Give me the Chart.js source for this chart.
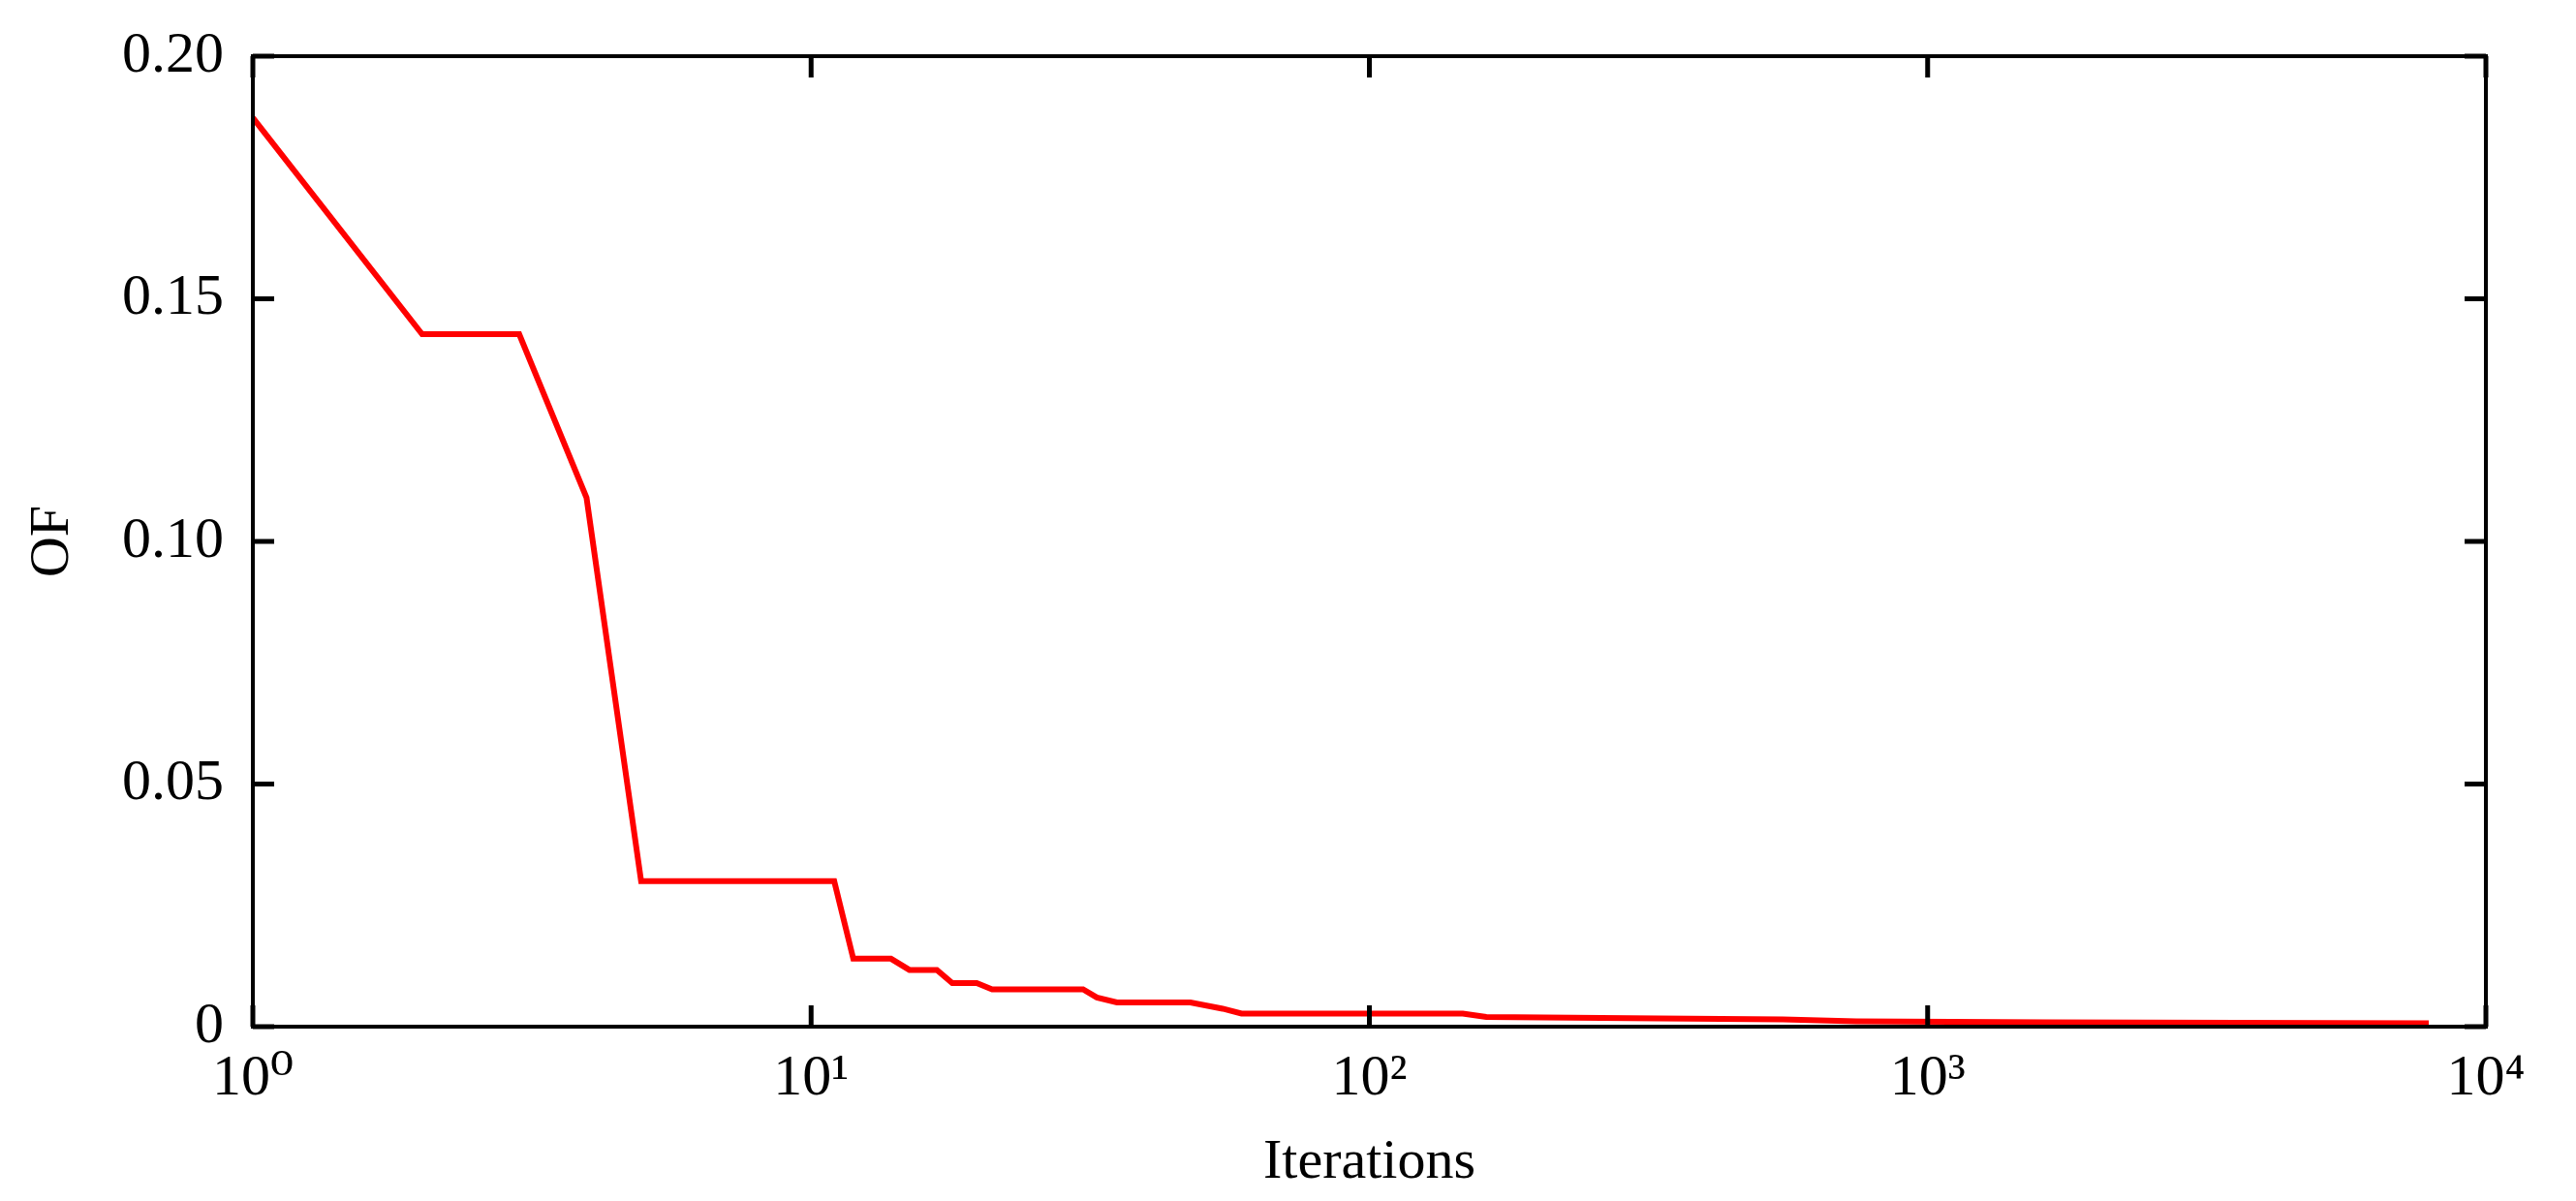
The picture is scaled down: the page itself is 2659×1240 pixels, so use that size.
<!DOCTYPE html>
<html><head><meta charset="utf-8">
<script src="https://cdn.jsdelivr.net/npm/chart.js@4"></script>
<style>html,body{margin:0;padding:0;background:#fff}#w{width:2659px;height:1240px}</style>
</head><body><div id="w"><canvas id="c"></canvas></div>
<script>
const iterations = [1, 2.01, 3.0, 3.96, 4.96, 11.0, 11.9, 13.9, 15.0, 16.8, 17.9, 19.8, 21.1, 30.7, 32.5, 35.3, 47.8, 54.6, 59, 147, 162, 330, 550, 745, 1630, 7900];
const ofValues = [0.1873, 0.1427, 0.1427, 0.109, 0.030, 0.030, 0.014, 0.014, 0.0117, 0.0117, 0.009, 0.009, 0.0077, 0.0077, 0.006, 0.005, 0.005, 0.0037, 0.0027, 0.0027, 0.002, 0.0017, 0.0015, 0.0011, 0.0009, 0.0007];
const xTickValues = [1, 10, 100, 1000, 10000];
const xTickLabels = ['10⁰', '10¹', '10²', '10³', '10⁴'];
const yTickValues = [0, 0.05, 0.10, 0.15, 0.20];
const yTickLabels = ['0', '0.05', '0.10', '0.15', '0.20'];

const FONT = "'Liberation Serif', 'DejaVu Serif', serif";
const innerTicks = {
  id: 'innerTicks',
  afterDraw(chart) {
    const {ctx, chartArea: a, scales: {x, y}} = chart;
    ctx.save();
    ctx.strokeStyle = '#000'; ctx.lineWidth = 5;
    const L = 22;
    ctx.beginPath();
    xTickValues.forEach(v => { const p = x.getPixelForValue(v);
      ctx.moveTo(p, a.bottom); ctx.lineTo(p, a.bottom - L);
      ctx.moveTo(p, a.top); ctx.lineTo(p, a.top + L); });
    yTickValues.forEach(v => { const p = y.getPixelForValue(v);
      ctx.moveTo(a.left, p); ctx.lineTo(a.left + L, p);
      ctx.moveTo(a.right, p); ctx.lineTo(a.right - L, p); });
    ctx.stroke();
    ctx.lineWidth = 4;
    ctx.strokeRect(a.left, a.top, a.right - a.left, a.bottom - a.top);
    ctx.restore();
  }
};
new Chart(document.getElementById('c'), {
  type: 'line',
  data: { datasets: [{ data: iterations.map((v, i) => ({x: v, y: ofValues[i]})),
    borderColor: '#ff0000', borderWidth: 6, pointRadius: 0, tension: 0, fill: false }] },
  options: {
    responsive: true, maintainAspectRatio: false, animation: false,
    layout: { padding: { top: 34, right: 93, left: 0, bottom: 0 } },
    plugins: { legend: { display: false }, tooltip: { enabled: false } },
    scales: {
      x: { type: 'logarithmic', min: 1, max: 10000,
        afterBuildTicks: s => { s.ticks = xTickValues.map(v => ({value: v})); },
        afterFit: s => { s.height = 180; },
        grid: { display: false }, border: { display: false },
        ticks: { color: '#000', font: { family: FONT, size: 60 }, padding: 10, maxRotation: 0,
          callback: (v) => xTickLabels[xTickValues.indexOf(v)] },
        title: { display: true, text: 'Iterations', color: '#000', font: { family: FONT, size: 58 }, padding: { top: -18 } } },
      y: { min: 0, max: 0.2,
        afterBuildTicks: s => { s.ticks = yTickValues.map(v => ({value: v})); },
        afterFit: s => { s.width = 261; },
        grid: { display: false }, border: { display: false },
        ticks: { color: '#000', font: { family: FONT, size: 60 }, padding: 22,
          callback: (v) => yTickLabels[yTickValues.indexOf(v)] ?? '' },
        title: { display: true, text: 'OF', color: '#000', font: { family: FONT, size: 58 }, padding: { top: 20, bottom: 0 } } }
    }
  },
  plugins: [innerTicks]
});
</script></body></html>
